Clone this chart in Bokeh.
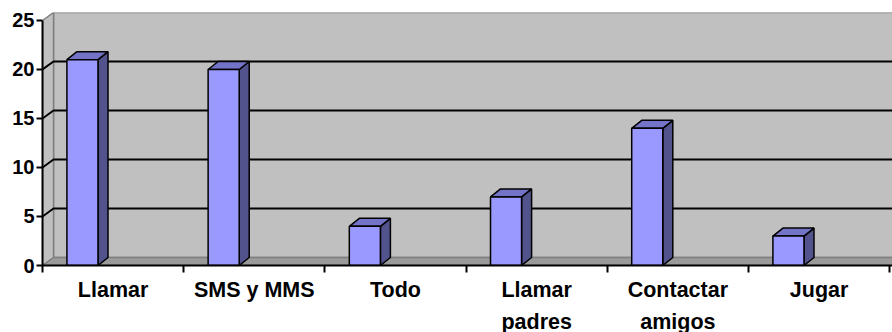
from bokeh.plotting import figure
from bokeh.models import Range1d, FixedTicker
from bokeh.embed import file_html
from bokeh.resources import INLINE

categories = ["Llamar", "SMS y MMS", "Todo", "Llamar\npadres", "Contactar\namigos", "Jugar"]
values = [21, 20, 4, 7, 14, 3]
y_ticks = [0, 5, 10, 15, 20, 25]

n = len(categories)
X_END = 6.02
DX, DY = 0.078, 0.816        # depth of the 3D wall (data units)
BDX, BDY = 0.071, 0.816      # depth of the bars
BAR_OFF, BAR_W = 0.283, 0.22
YMAX = 25

p = figure(frame_width=850, frame_height=253, output_backend="svg", toolbar_location=None,
           x_range=Range1d(0, X_END), y_range=Range1d(0, YMAX + DY),
           min_border_left=42, min_border_top=12, min_border_right=0, min_border_bottom=10)
p.background_fill_color = "white"
p.border_fill_color = "white"
p.outline_line_color = None
p.xgrid.visible = False
p.ygrid.visible = False

# back wall
p.quad(left=[DX], right=[X_END + 1], bottom=[DY], top=[YMAX + DY],
       fill_color="#C0C0C0", line_color="#808080", line_width=1.5)
# left side wall
p.patch([0, 0, DX, DX], [0, YMAX, YMAX + DY, DY], fill_color="#C0C0C0",
        line_color="#808080", line_width=1.5)
# floor
p.patch([0, X_END + 1, X_END + 1 + DX, DX], [0, 0, DY, DY], fill_color="#9A9A9A",
        line_color="#808080", line_width=1.5)

# gridlines
gx, gy = [], []
for v in y_ticks[1:-1]:
    gx.append([0, DX, X_END + 1])
    gy.append([v, v + DY, v + DY])
p.multi_line(gx, gy, line_color="black", line_width=2)

# bars
xl = [i + BAR_OFF - BAR_W / 2 for i in range(n)]
xr = [i + BAR_OFF + BAR_W / 2 for i in range(n)]
side_x = [[r, r + BDX, r + BDX, r] for r in xr]
side_y = [[0, BDY, v + BDY, v] for v in values]
top_x = [[l, r, r + BDX, l + BDX] for l, r in zip(xl, xr)]
top_y = [[v, v, v + BDY, v + BDY] for v in values]
p.patches(side_x, side_y, fill_color="#52528C", line_color="black", line_width=1.5)
p.patches(top_x, top_y, fill_color="#7373C8", line_color="black", line_width=1.5)
p.quad(left=xl, right=xr, bottom=[0] * n, top=values, fill_color="#9999FF",
       line_color="black", line_width=1.5)

# axes
centers = [i + 0.5 for i in range(n)]
p.xaxis.ticker = FixedTicker(ticks=centers, minor_ticks=list(range(n + 1)))
p.xaxis.major_label_overrides = {c: lab for c, lab in zip(centers, categories)}
p.xaxis.major_tick_out = 0
p.xaxis.major_tick_in = 0
p.xaxis.minor_tick_out = 7
p.xaxis.minor_tick_in = 0
p.xaxis.minor_tick_line_color = "black"
p.xaxis.minor_tick_line_width = 2
p.xaxis.axis_line_width = 2
p.xaxis.axis_line_color = "black"
p.xaxis.major_label_standoff = 5
p.xaxis.major_label_text_font = "Liberation Sans"
p.xaxis.major_label_text_font_style = "bold"
p.xaxis.major_label_text_font_size = "21.5px"
p.xaxis.major_label_text_color = "black"
p.xaxis.major_label_text_line_height = 1.35

p.yaxis.ticker = FixedTicker(ticks=y_ticks)
p.yaxis.bounds = (0, YMAX)
p.yaxis.major_tick_out = 6
p.yaxis.major_tick_in = 0
p.yaxis.minor_tick_out = 0
p.yaxis.minor_tick_in = 0
p.yaxis.major_tick_line_width = 2
p.yaxis.axis_line_width = 2
p.yaxis.axis_line_color = "black"
p.yaxis.major_label_standoff = 2
p.yaxis.major_label_text_font = "Liberation Sans"
p.yaxis.major_label_text_font_style = "bold"
p.yaxis.major_label_text_font_size = "20px"
p.yaxis.major_label_text_color = "black"

open("out.html", "w").write(file_html(p, INLINE))
